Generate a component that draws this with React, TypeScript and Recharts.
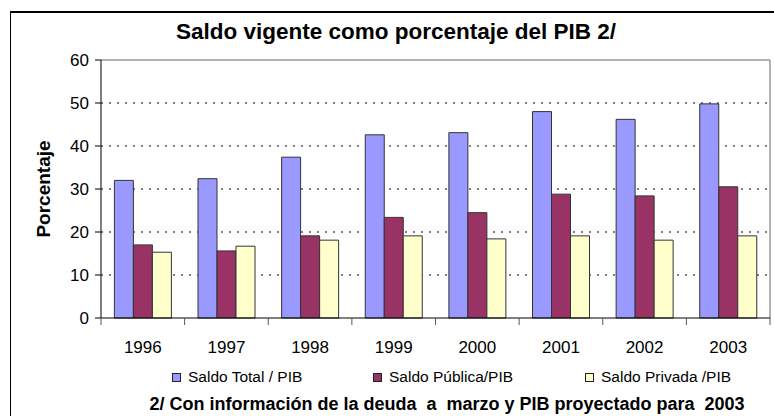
import { Bar, BarChart, CartesianGrid, XAxis, YAxis } from "recharts";

const years = ["1996", "1997", "1998", "1999", "2000", "2001", "2002", "2003"];
const saldoTotal = [32.0, 32.4, 37.4, 42.6, 43.1, 48.0, 46.2, 49.8];
const saldoPublica = [17.0, 15.6, 19.1, 23.4, 24.5, 28.8, 28.4, 30.5];
const saldoPrivada = [15.3, 16.7, 18.1, 19.1, 18.4, 19.1, 18.1, 19.1];
const yTicks = [0, 10, 20, 30, 40, 50, 60];
const gridValues = [10, 20, 30, 40, 50];

const seriesNames = ["Saldo Total / PIB", "Saldo Pública/PIB", "Saldo Privada /PIB"];
const seriesColors = ["#9999FF", "#993366", "#FFFFCC"];

const FONT = "'Liberation Sans', Arial, sans-serif";

const data = years.map((year, i) => ({
  year,
  total: saldoTotal[i],
  publica: saldoPublica[i],
  privada: saldoPrivada[i],
}));

const YLabel = ({ viewBox }: any) => {
  const cx = viewBox.x + viewBox.width - 58;
  const cy = viewBox.y + viewBox.height / 2;
  return (
    <text
      x={cx}
      y={cy}
      transform={`rotate(-90, ${cx}, ${cy})`}
      textAnchor="middle"
      dominantBaseline="central"
      fontFamily={FONT}
      fontWeight="bold"
      fontSize={19}
      fill="#000"
    >
      Porcentaje
    </text>
  );
};

// year label centred in its band, tick marks on the band edges
const YearTick = ({ x, y, payload, index, visibleTicksCount }: any) => {
  const half = payload.offset || 0;
  return (
    <g>
      <line x1={x - half} x2={x - half} y1={y - 20} y2={y - 13} stroke="#555" />
      {index === visibleTicksCount - 1 && (
        <line x1={x + half} x2={x + half} y1={y - 20} y2={y - 13} stroke="#555" />
      )}
      <text x={x} y={y + 15} textAnchor="middle" fontSize={17} fontFamily={FONT} fill="#000">
        {payload.value}
      </text>
    </g>
  );
};

const legendPos = [172, 373, 585];

export default function App() {
  return (
    <div
      style={{
        position: "absolute",
        left: 0,
        top: 0,
        width: 774,
        height: 416,
        background: "#fff",
        overflow: "hidden",
        fontFamily: FONT,
      }}
    >
      <div
        style={{
          position: "absolute",
          left: 10,
          top: 11,
          width: 800,
          height: 450,
          borderLeft: "1.5px solid #000",
          borderTop: "2px solid #000",
        }}
      />
      <div
        style={{
          position: "absolute",
          left: 0,
          width: 792,
          top: 19,
          textAlign: "center",
          fontSize: 22.5,
          fontWeight: "bold",
        }}
      >
        Saldo vigente como porcentaje del PIB 2/
      </div>

      <div style={{ position: "absolute", left: 0, top: 0 }}>
        <BarChart
          width={774}
          height={416}
          data={data}
          margin={{ top: 60, right: 4, bottom: 58, left: 31 }}
          barCategoryGap="16%"
          barGap={0}
        >
          <CartesianGrid
            vertical={false}
            stroke="#000"
            strokeDasharray="2 6"
            horizontalValues={gridValues}
          />
          <CartesianGrid
            stroke="#999"
            strokeWidth={1.5}
            horizontalCoordinatesGenerator={({ offset }: any) => [offset.top]}
            verticalCoordinatesGenerator={({ offset }: any) => [offset.left + offset.width]}
          />
          <XAxis
            dataKey="year"
            height={40}
            axisLine={{ stroke: "#000" }}
            tickLine={false}
            tick={<YearTick />}
            tickMargin={14}
            interval={0}
          />
          <YAxis
            domain={[0, 60]}
            ticks={yTicks}
            width={70}
            axisLine={{ stroke: "#000" }}
            tickLine={{ stroke: "#000" }}
            tickSize={6}
            tickMargin={6}
            tick={{ fill: "#000", fontSize: 17, fontFamily: FONT }}
            label={<YLabel />}
          />
          <Bar dataKey="total" fill={seriesColors[0]} stroke="#333" strokeWidth={1} isAnimationActive={false} />
          <Bar dataKey="publica" fill={seriesColors[1]} stroke="#333" strokeWidth={1} isAnimationActive={false} />
          <Bar dataKey="privada" fill={seriesColors[2]} stroke="#333" strokeWidth={1} isAnimationActive={false} />
        </BarChart>
      </div>

      {seriesNames.map((name, i) => (
        <div
          key={name}
          style={{
            position: "absolute",
            left: legendPos[i],
            top: 368,
            display: "flex",
            alignItems: "center",
            fontSize: 15.5,
            whiteSpace: "nowrap",
          }}
        >
          <span
            style={{
              display: "inline-block",
              width: 7,
              height: 7,
              background: seriesColors[i],
              border: "1px solid #222",
              marginRight: 7,
            }}
          />
          {name}
        </div>
      ))}

      <div
        style={{
          position: "absolute",
          left: 0,
          width: 894,
          top: 394,
          textAlign: "center",
          fontSize: 18,
          fontWeight: "bold",
          whiteSpace: "pre",
        }}
      >
        {"2/ Con información de la deuda  a  marzo y PIB proyectado para  2003"}
      </div>
    </div>
  );
}
